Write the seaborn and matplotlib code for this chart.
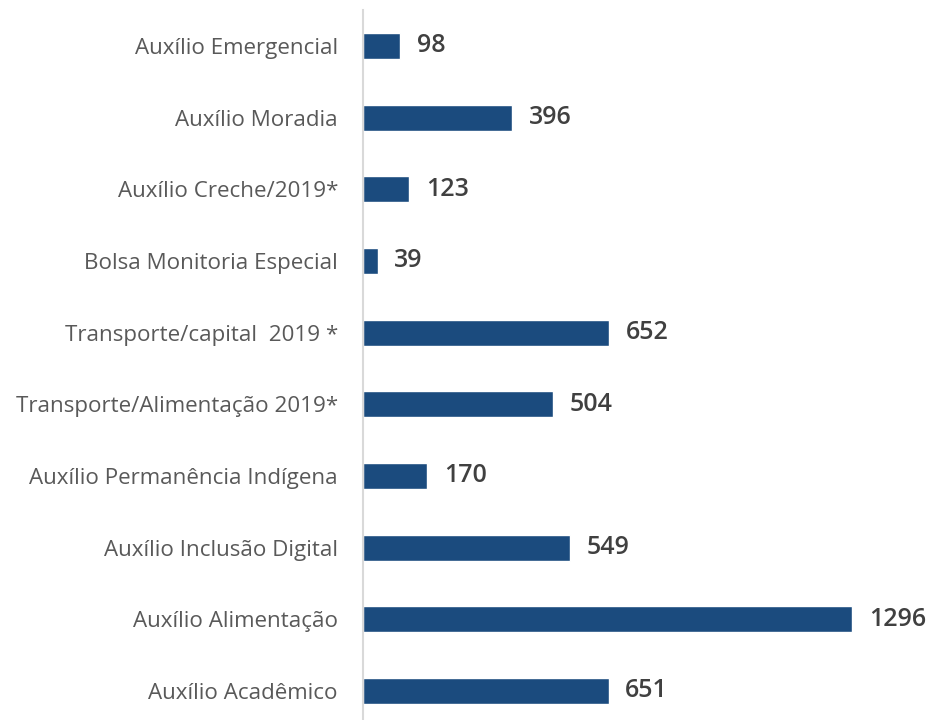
import matplotlib
matplotlib.use("Agg")
import matplotlib.pyplot as plt
import seaborn as sns
import pandas as pd

categories = [
    "Auxílio Emergencial",
    "Auxílio Moradia",
    "Auxílio Creche/2019*",
    "Bolsa Monitoria Especial",
    "Transporte/capital  2019 *",
    "Transporte/Alimentação 2019*",
    "Auxílio Permanência Indígena",
    "Auxílio Inclusão Digital",
    "Auxílio Alimentação",
    "Auxílio Acadêmico",
]
values = [98, 396, 123, 39, 652, 504, 170, 549, 1296, 651]

df = pd.DataFrame({"categoria": categories, "valor": values})

sns.set_theme(style="white")
plt.rcParams["font.family"] = ["Open Sans", "DejaVu Sans"]

fig = plt.figure(figsize=(9.31, 7.2), dpi=100)
ax = fig.add_axes([363 / 931, 0.0, 1 - 363 / 931, 1 - 10 / 720])

sns.barplot(data=df, x="valor", y="categoria", orient="h", color="#1B4B7E",
            saturation=1, width=0.36, ax=ax)

ax.set_xlim(0, 1505)
ax.set_ylim(9.405, -0.502)
ax.set_xlabel("")
ax.set_ylabel("")
ax.set_xticks([])
ax.tick_params(axis="y", length=0, pad=18, labelsize=16.1, labelcolor="#595959")

for side in ["top", "right", "bottom"]:
    ax.spines[side].set_visible(False)
ax.spines["left"].set_color("#D9D9D9")
ax.spines["left"].set_linewidth(1.5)

ax.bar_label(ax.containers[0], labels=[str(v) for v in values], padding=12,
             fontsize=18, fontweight="semibold", color="#404040")

fig.savefig("out.png", dpi=100)
